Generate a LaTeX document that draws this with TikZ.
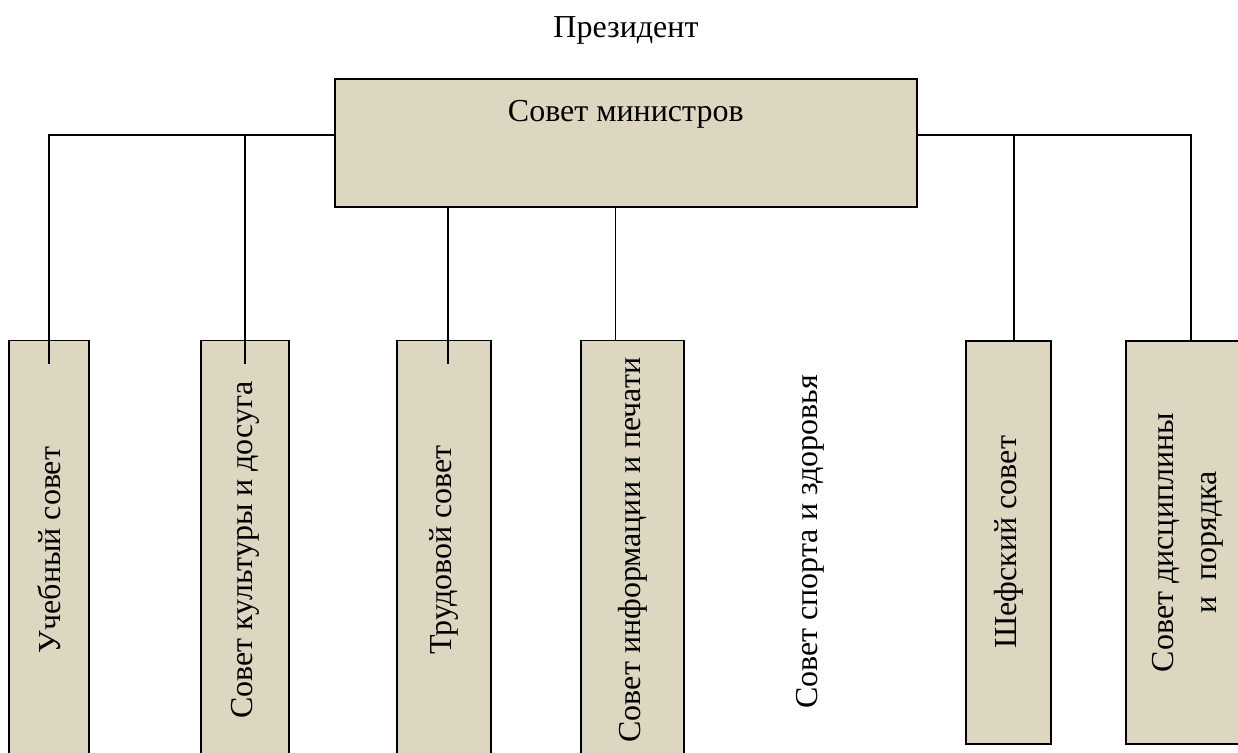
\documentclass[tikz,border=0pt]{standalone}
\usepackage{fontspec}
\setmainfont{Liberation Serif}
\usetikzlibrary{positioning}
\definecolor{boxfill}{RGB}{221,215,194}
\tikzset{
council/.style={ % rotated boxes: east anchor is the top
draw,
fill=boxfill,
line width=1.6pt,
rotate=90,
inner sep=0pt,
align=center},
link/.style={line width=1.6pt}}

\begin{document}
\begin{tikzpicture}[x=1pt, y=-1pt, font=\fontsize{32}{37}\selectfont]
\useasboundingbox (0,0) rectangle (1238,752);
\clip (0,0) rectangle (1238,752);
\coordinate (bus) at (0,135);
\node (prez) at (626,30) {Президент};
\node[draw, fill=boxfill, line width=1.6pt, inner sep=0pt, minimum width=582pt,
  text height=43pt, text depth=85pt, anchor=north west] (minister) at (334,78) {Совет министров};
\node[council, minimum width=419pt, minimum height=80pt] (ucheb) at (49,550) {Учебный совет};
\node[council, minimum width=419pt, minimum height=88pt] (kult) at (245,550) {Совет культуры и досуга};
\node[council, minimum width=419pt, minimum height=94pt] (trud) at (444,550) {Трудовой совет};
\node[council, minimum width=419pt, minimum height=103pt] (info) at (632.5,550) {Совет информации и печати};
\node[rotate=90, inner sep=0pt] (sport) at (810,542) {Совет спорта и здоровья};
\node[council, minimum width=403pt, minimum height=85pt] (shef) at (1008.5,542.5) {Шефский совет};
\node[council, minimum width=403pt, minimum height=124pt] (disc) at (1188,542.5) {Совет дисциплины\\[6pt]и\ \ порядка};
\draw[link] (minister.west |- bus) -| ([yshift=-24pt]ucheb.east);
\draw[link] (kult.east |- bus) -- ([yshift=-24pt]kult.east);
\draw[link] ([xshift=4pt]minister.south -| trud.east) -- ([xshift=4pt,yshift=-24pt]trud.east);
\draw[link] ([xshift=-17pt]minister.south -| info.east) -- ([xshift=-17pt]info.east);
\draw[link] (minister.east |- bus) -| ([xshift=3pt]disc.east);
\draw[link] ([xshift=5.5pt]shef.east |- bus) -- ([xshift=5.5pt]shef.east);
\end{tikzpicture}
\end{document}
